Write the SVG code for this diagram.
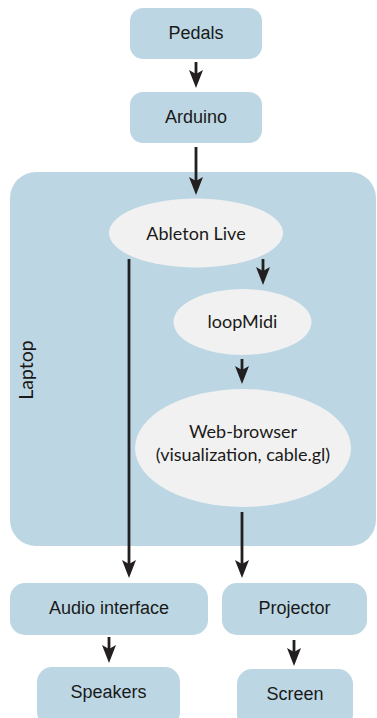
<svg xmlns="http://www.w3.org/2000/svg" width="377" height="718" viewBox="0 0 377 718">
<defs>
<style>
.box{fill:#bcd7e3;}
.ell{fill:#f1f1f1;}
.bt{font-family:"Liberation Sans",Arial,sans-serif;font-size:18px;fill:#1a1a1a;text-anchor:middle;}
.et{font-family:Lato,"Open Sans",sans-serif;font-size:18px;fill:#1a1a1a;text-anchor:middle;}
.lt{font-family:Lato,"Open Sans",sans-serif;font-size:19.5px;fill:#1a1a1a;text-anchor:middle;}
.c{stroke:#231f20;stroke-width:2.8;fill:none;marker-end:url(#ah);}
</style>
<marker id="ah" viewBox="-18 -7 18 14" refX="-8" refY="0" markerWidth="18" markerHeight="14" markerUnits="userSpaceOnUse" orient="auto">
<path d="M0,0 L-18,-7 L-14,0 L-18,7 Z" fill="#231f20"/>
</marker>
</defs>
<rect width="377" height="718" fill="#ffffff"/>
<g id="laptop">
<rect class="box" x="10" y="172" width="366" height="374" rx="26"/>
<text class="lt" transform="translate(33,370) rotate(-90)">Laptop</text>
</g>
<g id="pedals">
<rect class="box" x="130" y="8" width="132" height="51" rx="13"/>
<text class="bt" x="196" y="39">Pedals</text>
</g>
<g id="arduino">
<rect class="box" x="130" y="92" width="132" height="51" rx="13"/>
<text class="bt" x="196" y="123">Arduino</text>
</g>
<g id="ableton">
<ellipse class="ell" cx="196" cy="233" rx="87" ry="34.5"/>
<text class="et" x="196" y="240">Ableton Live</text>
</g>
<g id="loopmidi">
<ellipse class="ell" cx="242.5" cy="322" rx="69" ry="33"/>
<text class="et" x="242.5" y="328">loopMidi</text>
</g>
<g id="webbrowser">
<ellipse class="ell" cx="243" cy="448" rx="108" ry="59"/>
<text class="et" x="243" y="438">Web-browser</text>
<text class="et" x="243" y="461">(visualization, cable.gl)</text>
</g>
<g id="audio">
<rect class="box" x="10" y="583" width="198" height="52" rx="15"/>
<text class="bt" x="109" y="614">Audio interface</text>
</g>
<g id="projector">
<rect class="box" x="222" y="583" width="145" height="52" rx="15"/>
<text class="bt" x="294.5" y="614">Projector</text>
</g>
<g id="speakers">
<rect class="box" x="37" y="667" width="143" height="60" rx="15"/>
<text class="bt" x="108.5" y="698">Speakers</text>
</g>
<g id="screen">
<rect class="box" x="237" y="669" width="116" height="60" rx="15"/>
<text class="bt" x="295" y="700">Screen</text>
</g>
<g id="connectors">
<line class="c" x1="196" y1="62" x2="196" y2="80"/>
<line class="c" x1="196" y1="147" x2="196" y2="187"/>
<line class="c" x1="263" y1="259" x2="263" y2="277"/>
<line class="c" x1="242" y1="359" x2="242" y2="376"/>
<line class="c" x1="129" y1="259" x2="129" y2="570"/>
<line class="c" x1="242" y1="512" x2="242" y2="570"/>
<line class="c" x1="109" y1="637" x2="109" y2="655"/>
<line class="c" x1="294" y1="640" x2="294" y2="658"/>
</g>
</svg>
